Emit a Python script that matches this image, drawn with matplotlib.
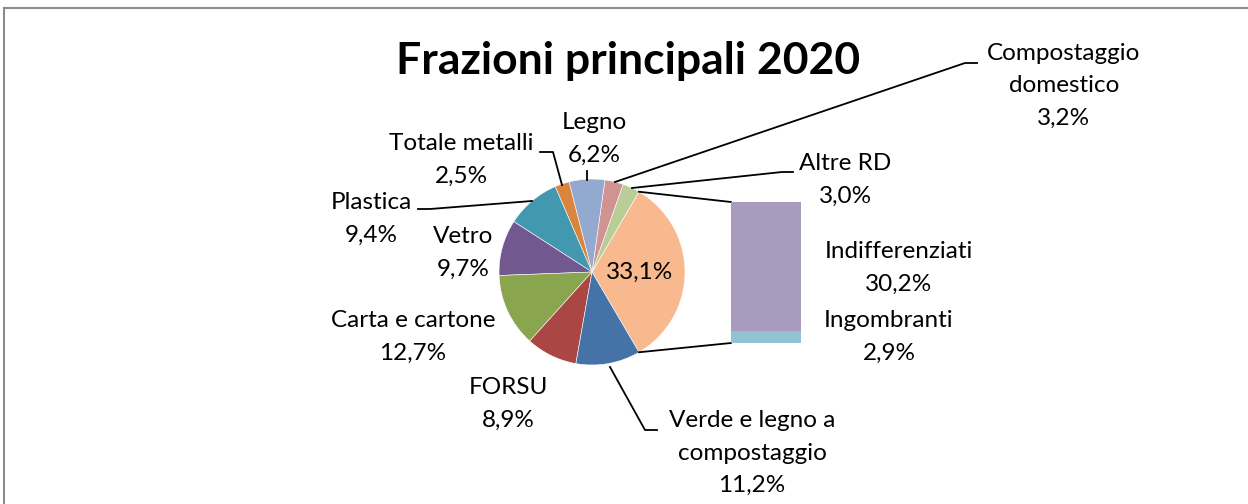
import matplotlib
matplotlib.use("Agg")
import matplotlib.pyplot as plt
import numpy as np
from matplotlib.patches import Rectangle

plt.rcParams['font.family'] = ['Lato', 'DejaVu Sans']

# pie slices, counterclockwise starting after the grouped slice
pie_labels = ["Altre RD", "Compostaggio\ndomestico", "Legno", "Totale metalli",
              "Plastica", "Vetro", "Carta e cartone", "FORSU",
              "Verde e legno a\ncompostaggio"]
pie_values = [3.0, 3.2, 6.2, 2.5, 9.4, 9.7, 12.7, 8.9, 11.2]
pie_colors = ["#B9CD96", "#D19392", "#93A9CF", "#DB843D", "#4198AF",
              "#71588F", "#89A54E", "#AA4643", "#4572A7"]

# the grouped slice is broken out into the bar
bar_labels = ["Ingombranti", "Indifferenziati"]
bar_values = [2.9, 30.2]
bar_colors = ["#92C3D4", "#A99BBD"]
other_color = "#F9B98E"

W, H = 1248, 504
FS = 17.5
LS = 1.65
fig = plt.figure(figsize=(W / 100, H / 100), dpi=100)
ax = fig.add_axes([0, 0, 1, 1])


def px(x, y):
    return x, H - y


def pct(v):
    return f"{v:.1f}".replace(".", ",") + "%"


other = sum(bar_values)
values = [other] + pie_values
colors = [other_color] + pie_colors
total = sum(values)
cx, cy = px(592, 272)
r = 93
wedges, _ = ax.pie(values, colors=colors, startangle=-180 * other / total,
                   counterclock=True, center=(cx, cy), radius=r,
                   wedgeprops=dict(edgecolor="white", linewidth=0.4))
ax.set_xlim(0, W)
ax.set_ylim(0, H)
ax.set_aspect("equal")
ax.axis("off")

ax.text(*px(640, 272), pct(other), ha="center", va="center", fontsize=FS)

# bar of the grouped slice
bx0, bx1, by_top, by_bot = 731, 801, 202, 343
ax_bar = fig.add_axes([bx0 / W, (H - by_bot) / H, (bx1 - bx0) / W, (by_bot - by_top) / H])
bottom = 0
for v, c in zip(bar_values, bar_colors):
    ax_bar.bar(0, v, bottom=bottom, width=1, color=c, linewidth=0)
    bottom += v
ax_bar.set_xlim(-0.5, 0.5)
ax_bar.set_ylim(0, other)
ax_bar.axis("off")

# connectors from the grouped slice to the bar
w0 = wedges[0]
for ang, by in [(w0.theta2, by_top), (w0.theta1, by_bot)]:
    ex = cx + r * np.cos(np.radians(ang))
    ey = cy + r * np.sin(np.radians(ang))
    ax.plot([ex, bx0], [ey, H - by], color="black", linewidth=1.3)

# label positions (block centres) and leader lines in pixels
label_pos = [(845, 180), (1064, 86), (594, 139), (461, 160), (371, 219),
             (463, 253), (413, 337), (508, 404), (752, 453)]
leaders = [
    [(632, 188), (782, 172), (793, 172)],
    [(615, 182), (965, 63), (977, 63)],
    [(587, 180), (587, 171)],
    [(562, 185), (553, 152), (540, 152)],
    [(532, 201), (430, 209), (418, 209)],
    None, None, None,
    [(610, 367), (645, 430), (657, 430)],
]
for lab, v, pos, lead in zip(pie_labels, pie_values, label_pos, leaders):
    ax.text(*px(*pos), lab + "\n" + pct(v), ha="center", va="center",
            fontsize=FS, linespacing=LS)
    if lead:
        xs = [p[0] for p in lead]
        ys = [H - p[1] for p in lead]
        ax.plot(xs, ys, color="black", linewidth=1.3)

for lab, v, pos in zip(bar_labels, bar_values, [(889, 337), (899, 268)]):
    ax.text(*px(*pos), lab + "\n" + pct(v), ha="center", va="center",
            fontsize=FS, linespacing=LS)

ax.text(*px(628, 61), "Frazioni principali 2020", ha="center", va="center",
        fontsize=32, fontweight="bold")

fig.patches.append(Rectangle((4 / W, -0.1), 1.2, (H - 8) / H + 0.1,
                             transform=fig.transFigure, fill=False,
                             edgecolor="#8C8C8C", linewidth=1.5))

fig.savefig("out.png", dpi=100)
